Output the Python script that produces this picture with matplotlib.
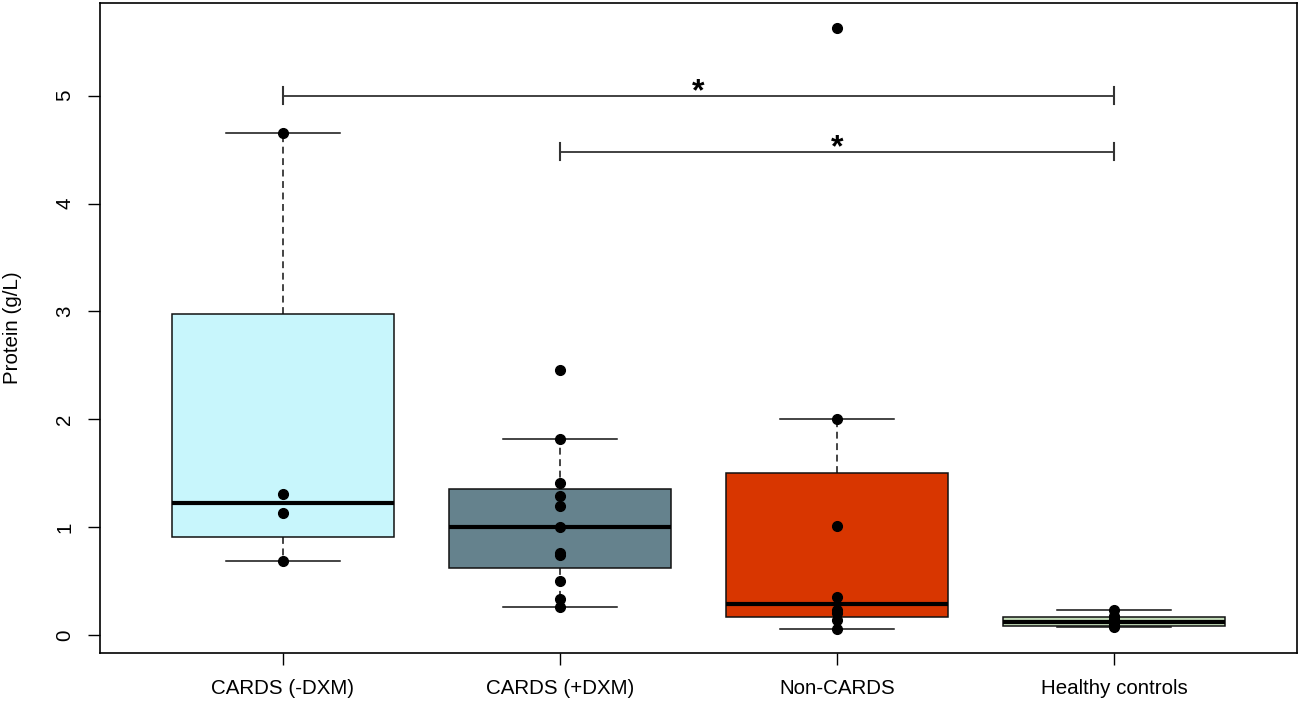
import math
import matplotlib
matplotlib.use("Agg")
import matplotlib.pyplot as plt

plt.rcParams['font.family'] = ['Liberation Sans', 'DejaVu Sans']

categories = ["CARDS (-DXM)", "CARDS (+DXM)", "Non-CARDS", "Healthy controls"]
cards_minus = [0.69, 1.13, 1.31, 4.65]
cards_plus = [0.26, 0.33, 0.50, 0.74, 0.76, 1.00, 1.20, 1.29, 1.41, 1.82, 2.46]
non_cards = [0.06, 0.14, 0.20, 0.23, 0.35, 1.01, 2.00, 5.63]
healthy = [0.07, 0.08, 0.09, 0.11, 0.13, 0.15, 0.18, 0.23]
colors = ["#c8f6fc", "#65828d", "#d83600", "#c2dcb8"]
yticks = [0, 1, 2, 3, 4, 5]
# significance brackets: (group_from, group_to, height)
brackets = [(1, 4, 5.0), (2, 4, 4.48)]

groups = [cards_minus, cards_plus, non_cards, healthy]


def fivenum(x):
    x = sorted(x)
    n = len(x)
    n4 = math.floor((n + 3) / 2) / 2
    d = [1, n4, (n + 1) / 2, n + 1 - n4, n]
    return [0.5 * (x[math.floor(di) - 1] + x[math.ceil(di) - 1]) for di in d]


stats = []
for g in groups:
    mn, q1, med, q3, mx = fivenum(g)
    iqr = q3 - q1
    lo = min(v for v in g if v >= q1 - 1.5 * iqr)
    hi = max(v for v in g if v <= q3 + 1.5 * iqr)
    stats.append(dict(med=med, q1=q1, q3=q3, whislo=lo, whishi=hi, fliers=[]))

fig = plt.figure(figsize=(12.99, 7.05), dpi=100)
ax = fig.add_axes([100 / 1299, 1 - 653 / 705, 1197 / 1299, 650 / 705])

positions = [1, 2, 3, 4]
bp = ax.bxp(stats, positions=positions, widths=0.8, patch_artist=True,
            showfliers=False, capwidths=0.41,
            boxprops=dict(linewidth=1.1, edgecolor='#111111'),
            medianprops=dict(color='black', linewidth=3.0, solid_capstyle='butt'),
            whiskerprops=dict(color='#111111', linewidth=1.1, linestyle=(0, (4.5, 3))),
            capprops=dict(color='#111111', linewidth=1.1))
for patch, c in zip(bp['boxes'], colors):
    patch.set_facecolor(c)

for pos, g in zip(positions, groups):
    ax.plot([pos] * len(g), g, 'o', color='black', markersize=7, zorder=5)

for a, b, h in brackets:
    ax.plot([a, b], [h, h], color='#333333', linewidth=1.3)
    for xe in (a, b):
        ax.plot([xe, xe], [h - 0.08, h + 0.08], color='#333333', linewidth=1.5)
    ax.text((a + b) / 2, h - 0.11, "*", ha='center', va='bottom', fontsize=23,
            fontweight='bold', color='black')

ax.set_xlim(0.34, 4.66)
ax.set_ylim(-0.167, 5.86)
ax.set_xticks(positions)
ax.set_xticklabels(categories, fontsize=14.8)
ax.set_yticks(yticks)
ax.set_yticklabels([str(t) for t in yticks], fontsize=14.8, rotation=90, va='center')
ax.tick_params(axis='both', direction='out', length=8.5, width=1.0, pad=10)
ax.set_ylabel("Protein (g/L)", fontsize=14.8, labelpad=24)
for s in ax.spines.values():
    s.set_linewidth(1.2)

fig.savefig("out.png", dpi=100)
